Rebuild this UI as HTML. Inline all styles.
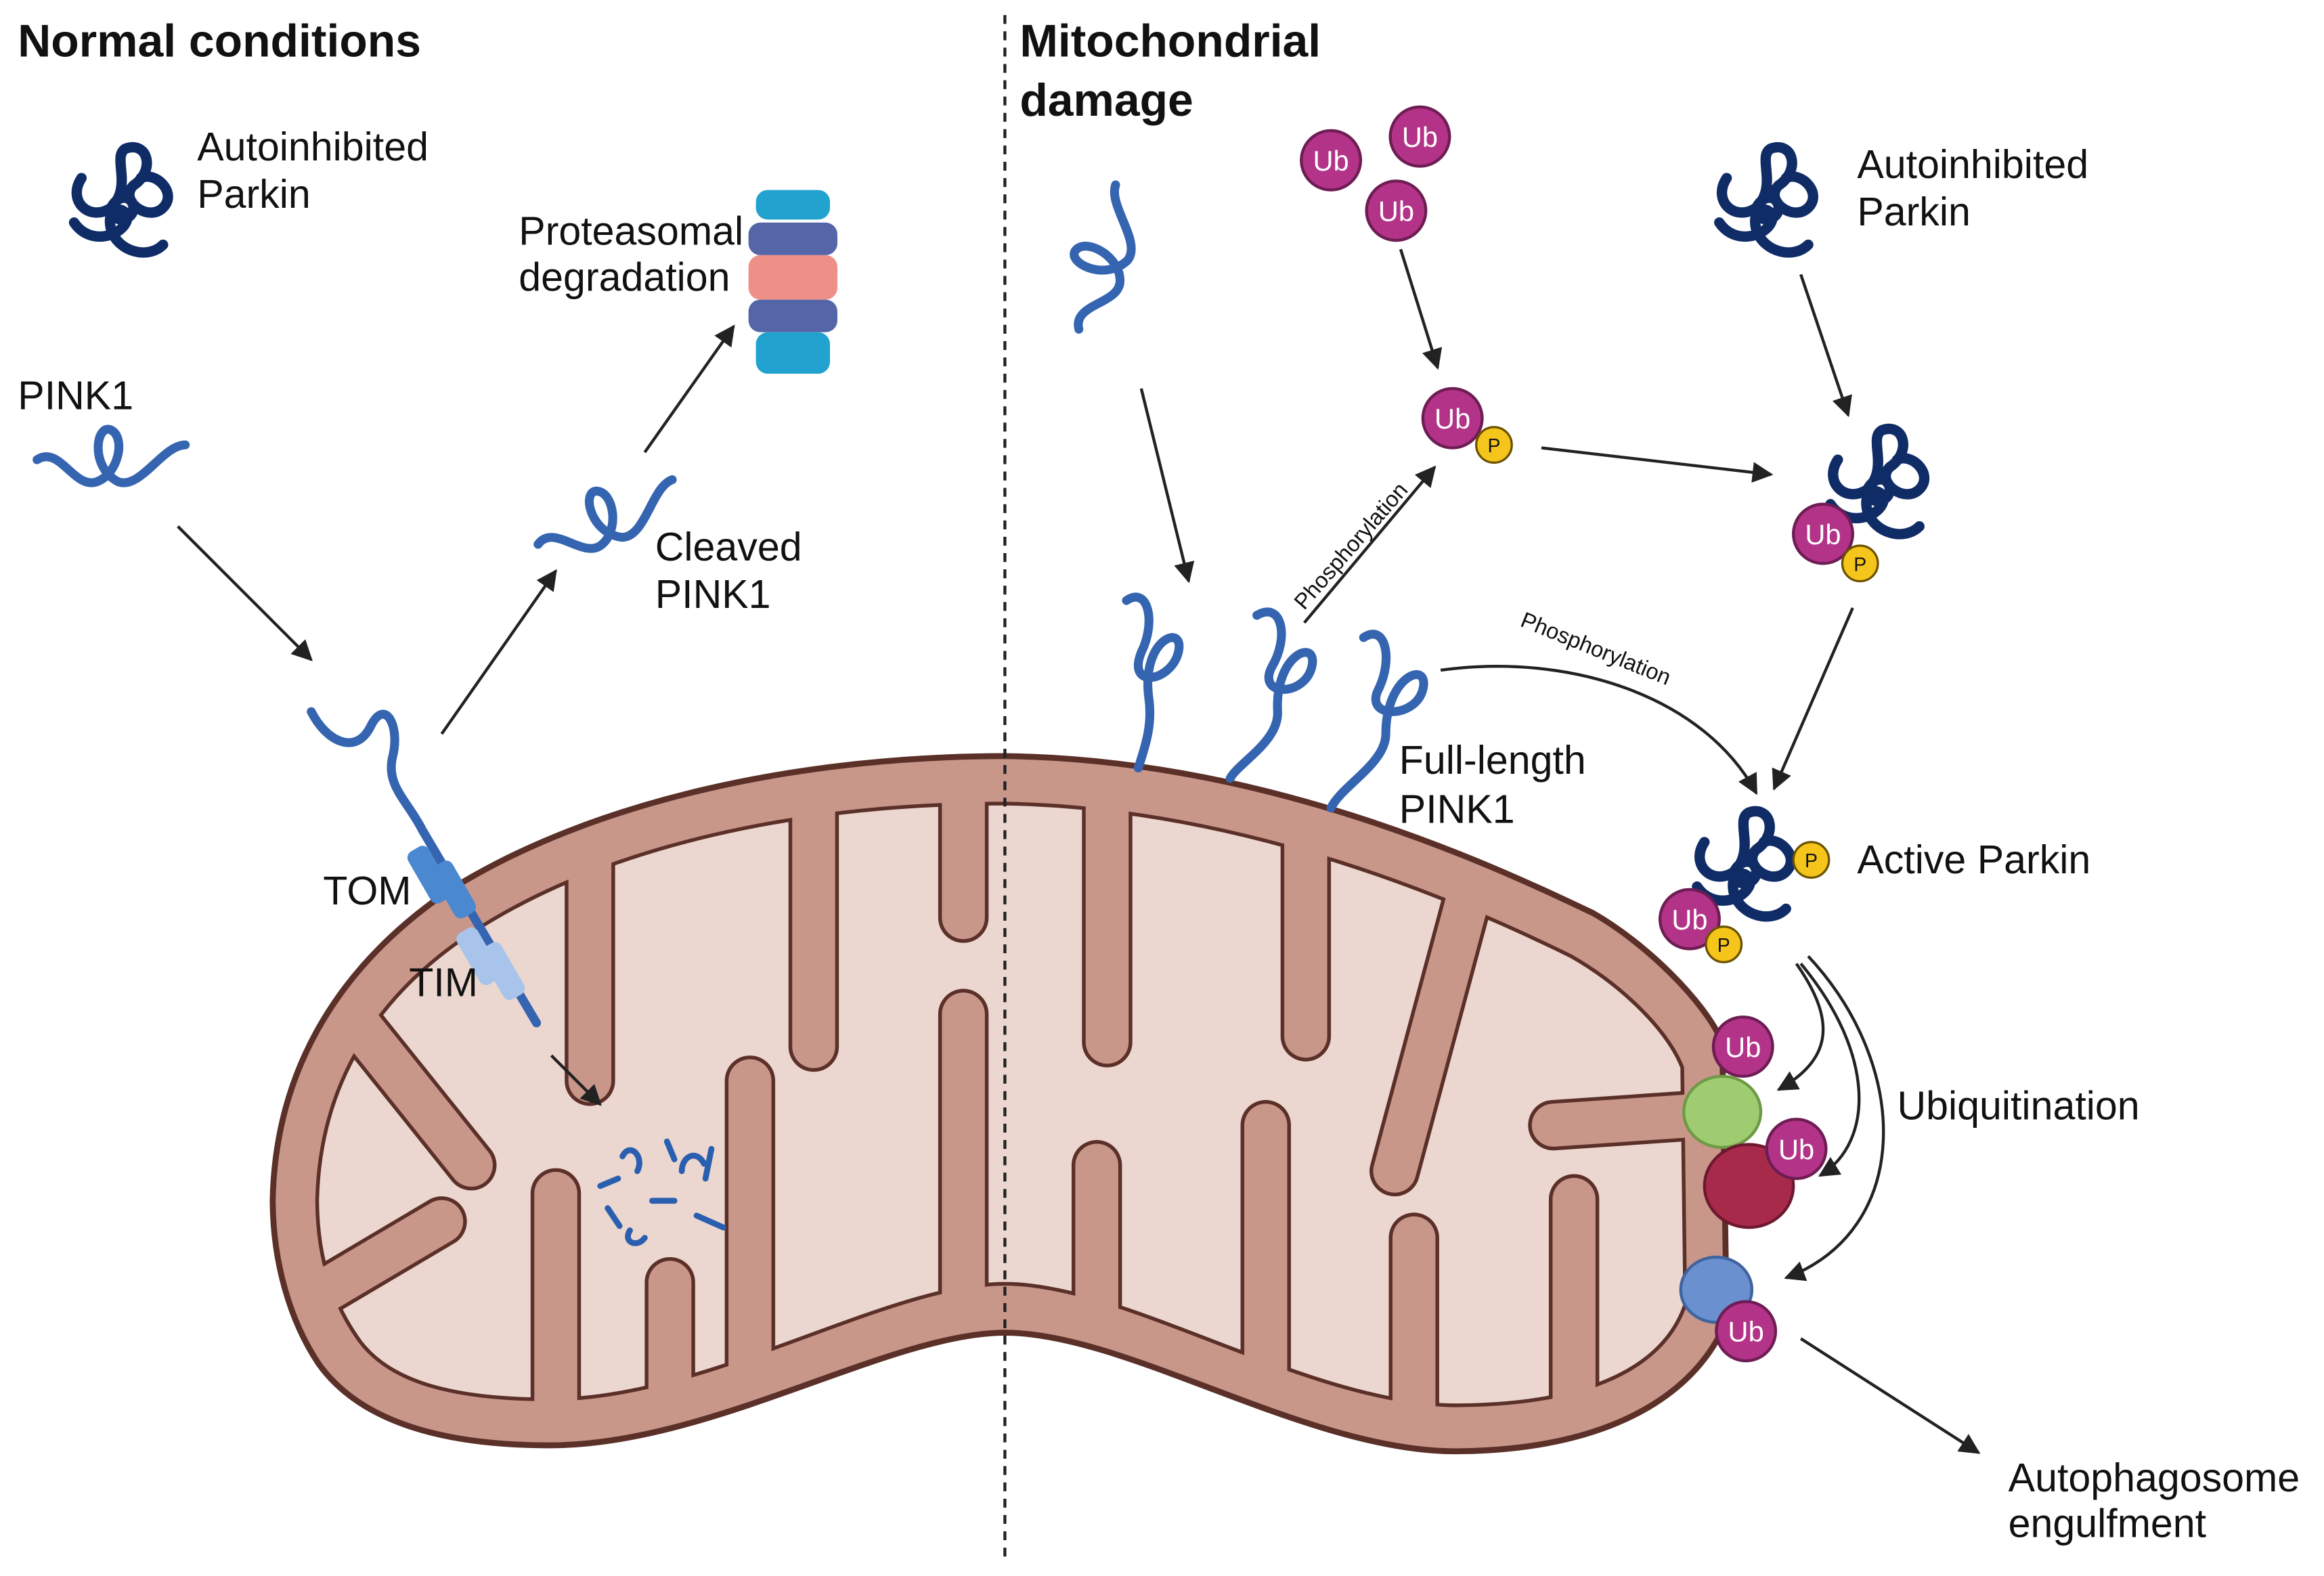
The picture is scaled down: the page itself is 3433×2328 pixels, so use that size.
<!DOCTYPE html>
<html><head><meta charset="utf-8"><style>
html,body{margin:0;padding:0;background:#fff}
svg{display:block}
text{font-family:"Liberation Sans",sans-serif;fill:#111}
</style></head><body>
<svg width="3433" height="2328" viewBox="0 0 1568 1063" xmlns="http://www.w3.org/2000/svg">
<defs>
<marker id="ah" viewBox="0 0 10 10" refX="9" refY="5" markerWidth="7" markerHeight="7" orient="auto-start-reverse">
<path d="M0,0 L10,5 L0,10 z" fill="#222"/></marker>
<g id="parkin" fill="none" stroke="#0f2c66" stroke-width="7" stroke-linecap="round">
<path d="M-25,-20 C-35,-5 -20,10 -5,0 C10,-15 -5,-35 5,-40 C20,-45 25,-25 10,-15 C0,-5 20,10 30,0 C40,-10 25,-25 15,-20 M-30,10 C-20,25 0,20 5,10 C10,0 -10,-5 -5,15 C0,30 20,35 30,25 M-5,0 C0,-10 10,-8 10,0 C10,8 0,10 -5,5"/>
</g>
<g id="pink" fill="none" stroke="#3565b0" stroke-width="6" stroke-linecap="round">
<path d="M-50,0 C-35,-10 -25,20 -10,15 C5,10 10,-15 0,-20 C-10,-25 -15,5 5,15 C20,20 35,-10 50,-10"/>
</g>
<g id="ub"><circle r="20" fill="#b33388" stroke="#6e1d54" stroke-width="2"/><text x="0" y="7" font-size="19" text-anchor="middle" style="fill:#fff">Ub</text></g>
<g id="p"><circle r="12" fill="#f6c51b" stroke="#6b5200" stroke-width="1.5"/><text x="0" y="5" font-size="13" text-anchor="middle">P</text></g>
<path id="outerP" d="M184,809 C186,720 230,650 304,600 C400,540 540,510 678,510 C850,512 1000,580 1075,616 C1110,636 1150,675 1162,703 L1165,890 C1150,930 1100,979 980,979 C880,978 760,899 678,899 C600,899 480,975 371,975 C290,975 240,955 215,920 C195,890 184,850 184,809 Z"/>
<path id="innerP" d="M214,809 C216,730 255,670 320,628 C410,570 540,542 678,542 C840,545 985,608 1060,645 C1095,665 1125,695 1135,720 L1137,880 C1125,915 1085,948 980,948 C880,946 760,866 678,866 C598,866 478,944 371,944 C300,944 262,930 243,905 C225,880 214,850 214,809 Z"/>
<clipPath id="clipIn"><use href="#innerP"/></clipPath>
<clipPath id="clipOut"><use href="#outerP"/></clipPath>
<g id="crl">
<path d="M398,560 L398,729"/><path d="M549,530 L549,706"/><path d="M650,520 L650,619"/><path d="M747,525 L747,703"/><path d="M881,560 L881,699"/><path d="M992,600 L941,790"/><path d="M1150,752 L1048,759"/>
<path d="M375,990 L375,805"/><path d="M452,980 L452,865"/><path d="M506,960 L506,729"/><path d="M650,910 L650,684"/><path d="M740,910 L740,786"/><path d="M854,960 L854,759"/><path d="M954,990 L954,835"/><path d="M1062,975 L1062,809"/>
<path d="M225,670 L318,786"/><path d="M195,885 L298,824"/>
</g>
</defs>

<!-- mitochondrion -->
<use href="#outerP" fill="#c9968a"/>
<use href="#innerP" fill="#ecd7d0" stroke="#5a3028" stroke-width="2.5"/>
<g fill="none" stroke-linecap="round">
<g clip-path="url(#clipIn)" stroke="#5a3028" stroke-width="34"><use href="#crl"/></g>
<g clip-path="url(#clipOut)" stroke="#c9968a" stroke-width="29"><use href="#crl"/></g>
</g>
<use href="#outerP" fill="none" stroke="#5a3028" stroke-width="4"/>

<line x1="678" y1="10" x2="678" y2="1055" stroke="#222" stroke-width="2" stroke-dasharray="6,5"/>

<text x="12" y="38" font-size="31" font-weight="bold">Normal conditions</text>
<text x="688" y="38" font-size="31" font-weight="bold">Mitochondrial</text>
<text x="688" y="78" font-size="31" font-weight="bold">damage</text>

<use href="#parkin" x="80" y="140"/>
<text x="133" y="108" font-size="27">Autoinhibited</text><text x="133" y="140" font-size="27">Parkin</text>
<use href="#parkin" x="1190" y="140"/>
<text x="1253" y="120" font-size="27">Autoinhibited</text><text x="1253" y="152" font-size="27">Parkin</text>

<text x="12" y="276" font-size="27">PINK1</text>
<use href="#pink" x="75" y="310"/>
<use href="#pink" x="410" y="350" transform="rotate(-20 410 350)"/>
<text x="442" y="378" font-size="27">Cleaved</text><text x="442" y="410" font-size="27">PINK1</text>
<text x="350" y="165" font-size="27">Proteasomal</text><text x="350" y="196" font-size="27">degradation</text>
<!-- proteasome -->
<g>
<rect x="510" y="128" width="50" height="20" rx="8" fill="#22a3cf"/>
<rect x="505" y="150" width="60" height="22" rx="8" fill="#5566a8"/>
<rect x="505" y="172" width="60" height="30" rx="8" fill="#ee8f88"/>
<rect x="505" y="202" width="60" height="22" rx="8" fill="#5566a8"/>
<rect x="510" y="224" width="50" height="28" rx="8" fill="#22a3cf"/>
</g>

<!-- TOM TIM pink1 -->
<path d="M210,480 C220,500 240,510 250,490 C260,470 270,490 265,510 C260,530 275,540 285,560 L362,690" stroke="#3565b0" stroke-width="6" fill="none" stroke-linecap="round"/>
<rect x="282" y="570" width="16" height="40" rx="5" fill="#4a88d0" transform="rotate(-30 290 590)"/>
<rect x="298" y="580" width="16" height="40" rx="5" fill="#4a88d0" transform="rotate(-30 306 600)"/>
<rect x="315" y="625" width="16" height="40" rx="5" fill="#a9c4ea" transform="rotate(-30 323 645)"/>
<rect x="331" y="635" width="16" height="40" rx="5" fill="#a9c4ea" transform="rotate(-30 339 655)"/>
<text x="218" y="610" font-size="27">TOM</text>
<text x="276" y="672" font-size="27">TIM</text>
<g stroke="#2a5fb0" stroke-width="4" fill="none" stroke-linecap="round">
<path d="M405,800 l12,-5 M420,780 c5,-10 15,0 10,10 M440,810 l15,0 M460,790 c0,-10 10,-15 15,-5 M425,830 c-5,8 5,12 10,5 M470,820 l18,8 M410,815 l8,12 M450,770 l5,12 M480,775 l-4,20"/>
</g>

<!-- arrows normal -->
<g stroke="#222" stroke-width="2" fill="none" marker-end="url(#ah)">
<line x1="120" y1="355" x2="210" y2="445"/>
<line x1="298" y1="495" x2="375" y2="385"/>
<line x1="435" y1="305" x2="495" y2="220"/>
<line x1="372" y1="712" x2="405" y2="745"/>
</g>

<!-- damage side -->
<use href="#pink" x="745" y="175" transform="rotate(-70 745 175)"/>
<line x1="770" y1="262" x2="802" y2="392" stroke="#222" stroke-width="2" marker-end="url(#ah)"/>
<g stroke="#3565b0" stroke-width="6" fill="none" stroke-linecap="round">
<path d="M760,405 C775,395 780,420 770,440 C760,465 790,460 795,440 C800,420 770,430 775,470 C778,490 772,505 768,518"/>
<path d="M848,415 C865,405 870,430 858,450 C848,470 880,470 885,450 C890,430 860,440 862,480 C863,500 835,515 830,525"/>
<path d="M920,430 C935,420 940,445 930,465 C920,485 955,485 960,465 C965,445 935,455 935,495 C935,515 905,530 898,545"/>
</g>
<text x="944" y="522" font-size="27">Full-length</text><text x="944" y="555" font-size="27">PINK1</text>

<use href="#ub" x="898" y="108"/><use href="#ub" x="958" y="92"/><use href="#ub" x="942" y="142"/>
<line x1="945" y1="168" x2="970" y2="248" stroke="#222" stroke-width="2" marker-end="url(#ah)"/>
<use href="#ub" x="980" y="282"/><use href="#p" x="1008" y="300"/>
<line x1="880" y1="420" x2="968" y2="315" stroke="#222" stroke-width="2" marker-end="url(#ah)"/>
<text x="0" y="0" font-size="15" transform="translate(880,412) rotate(-49)">Phosphorylation</text>
<line x1="1040" y1="302" x2="1195" y2="320" stroke="#222" stroke-width="2" marker-end="url(#ah)"/>
<line x1="1215" y1="185" x2="1247" y2="280" stroke="#222" stroke-width="2" marker-end="url(#ah)"/>
<use href="#parkin" x="1265" y="330"/>
<use href="#ub" x="1230" y="360"/><use href="#p" x="1255" y="380"/>
<line x1="1250" y1="410" x2="1197" y2="532" stroke="#222" stroke-width="2" marker-end="url(#ah)"/>
<path d="M972,452 C1060,440 1150,470 1185,535" stroke="#222" stroke-width="2" fill="none" marker-end="url(#ah)"/>
<text x="0" y="0" font-size="15" transform="translate(1025,422) rotate(22)">Phosphorylation</text>

<use href="#parkin" x="1175" y="588"/>
<use href="#p" x="1222" y="580"/><use href="#ub" x="1140" y="620"/><use href="#p" x="1163" y="637"/>
<text x="1253" y="589" font-size="27">Active Parkin</text>

<!-- substrates -->
<g>
<ellipse cx="1162" cy="750" rx="26" ry="24" fill="#9fcc70" stroke="#6e9a48" stroke-width="2"/>
<ellipse cx="1180" cy="800" rx="30" ry="28" fill="#a82a4a" stroke="#6e1830" stroke-width="2"/>
<ellipse cx="1158" cy="870" rx="24" ry="22" fill="#6a90d0" stroke="#40649e" stroke-width="2"/>
</g>
<use href="#ub" x="1176" y="706"/><use href="#ub" x="1212" y="775"/><use href="#ub" x="1178" y="898"/>
<g stroke="#222" stroke-width="2" fill="none" marker-end="url(#ah)">
<path d="M1212,650 C1240,690 1235,715 1200,735"/>
<path d="M1215,650 C1265,710 1265,770 1228,793"/>
<path d="M1220,645 C1290,720 1290,830 1205,862"/>
<line x1="1215" y1="903" x2="1335" y2="980"/>
</g>
<text x="1280" y="755" font-size="27">Ubiquitination</text>
<text x="1355" y="1006" font-size="27">Autophagosome</text><text x="1355" y="1037" font-size="27">engulfment</text>
</svg>
</body></html>
